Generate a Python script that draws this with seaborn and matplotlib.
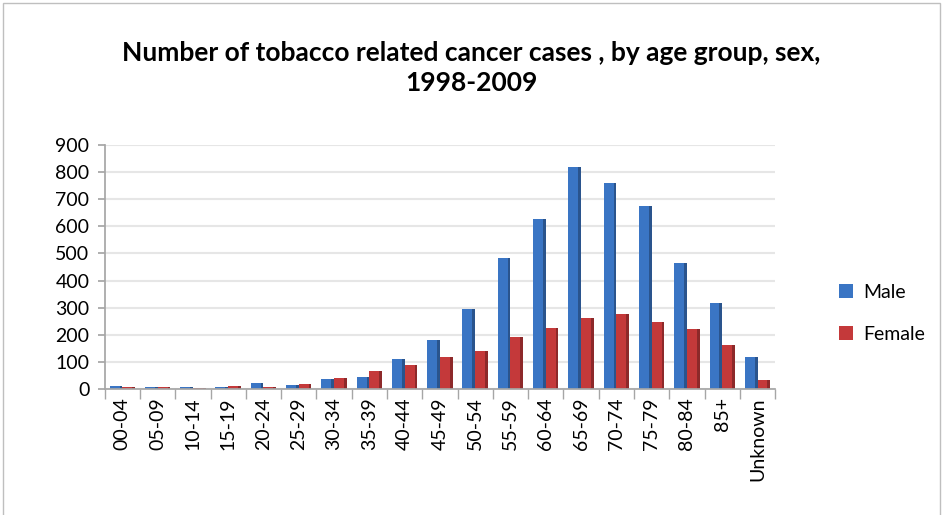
import matplotlib
matplotlib.use("Agg")
import matplotlib.pyplot as plt
import seaborn as sns
import pandas as pd
from matplotlib.patches import Rectangle

age_groups = ["00-04", "05-09", "10-14", "15-19", "20-24", "25-29", "30-34", "35-39",
              "40-44", "45-49", "50-54", "55-59", "60-64", "65-69", "70-74", "75-79",
              "80-84", "85+", "Unknown"]
male = [12, 8, 7, 8, 20, 15, 38, 45, 112, 180, 295, 482, 628, 820, 760, 676, 464, 316, 118]
female = [8, 5, 4, 10, 6, 17, 40, 65, 88, 117, 140, 190, 224, 262, 276, 247, 222, 162, 31]
series = ["Male", "Female"]
colors = ["#3A75C4", "#C4393A"]

df = pd.DataFrame({
    "age": age_groups * 2,
    "sex": [series[0]] * len(age_groups) + [series[1]] * len(age_groups),
    "cases": male + female,
})

sns.set_theme(style="white")
plt.rcParams["font.family"] = ["Lato", "DejaVu Sans"]

fig = plt.figure(figsize=(9.43, 5.15), dpi=100)
fig.patches.append(Rectangle((0.003, -0.01), 0.994, 1.004, transform=fig.transFigure,
                             fill=False, edgecolor="#BFBFBF", linewidth=1.0))
ax = fig.add_axes([0.111, 0.245, 0.711, 0.473])

sns.barplot(data=df, x="age", y="cases", hue="sex", palette=colors, width=0.72,
            ax=ax, saturation=1, edgecolor="none", legend=True)

# simple shading for depth
for bar in ax.patches:
    h = bar.get_height()
    if h <= 0:
        continue
    x0 = bar.get_x()
    w = bar.get_width()
    fc = bar.get_facecolor()
    dark = tuple(c * 0.72 for c in fc[:3])
    ax.add_patch(Rectangle((x0 + w * 0.78, 0), w * 0.22, h, facecolor=dark,
                           edgecolor="none", zorder=bar.get_zorder() + 0.1))

ax.set_ylim(0, 900)
ax.set_xlim(-0.5, len(age_groups) - 0.5)
ax.set_yticks(range(0, 901, 100))
ax.yaxis.grid(True, color="#E6E6E6", linewidth=1.5)
ax.set_axisbelow(True)
ax.set_xlabel("")
ax.set_ylabel("")
for s in ["top", "right"]:
    ax.spines[s].set_visible(False)
ax.spines["left"].set_color("#A6A6A6")
ax.spines["bottom"].set_color("#A6A6A6")
ax.tick_params(axis="y", labelsize=14, length=5, color="#A6A6A6", direction="out", left=True, pad=6,
               labelcolor="black")
ax.set_xticks(range(len(age_groups)))
ax.set_xticklabels(age_groups, rotation=90, fontsize=14, color="black")
ax.tick_params(axis="x", length=0, pad=6)
ax.set_xticks([i - 0.5 for i in range(len(age_groups) + 1)], minor=True)
ax.tick_params(axis="x", which="minor", length=7, color="#A6A6A6", bottom=True, direction="out")

handles, labels = ax.get_legend_handles_labels()
leg = ax.legend(handles, labels, loc="center left", bbox_to_anchor=(1.06, 0.31), frameon=False,
                fontsize=14, handlelength=0.75, handleheight=0.75, labelspacing=1.3,
                borderaxespad=0.8, handletextpad=0.5)
for t in leg.get_texts():
    t.set_color("black")

fig.text(0.5, 0.867, "Number of tobacco related cancer cases , by age group, sex,\n1998-2009",
         ha="center", va="center", fontsize=19, fontweight="bold", linespacing=1.3,
         color="black")

fig.savefig("out.png", dpi=100)
